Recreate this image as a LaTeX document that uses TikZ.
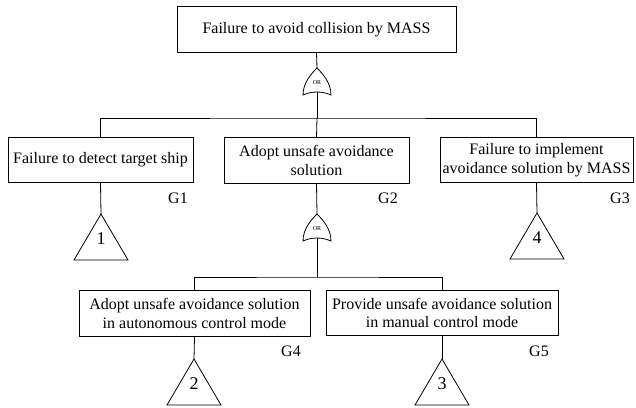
\documentclass[tikz,border=0pt]{standalone}
\usepackage{fontspec}
\setmainfont{Liberation Serif}
\begin{document}
\begin{tikzpicture}[x=1pt,y=-1pt,line width=0.8pt,
  event/.style={draw,rectangle,inner sep=0pt,minimum height=45.5pt,align=center,
    font=\fontsize{16}{18.5}\selectfont},
  gid/.style={font=\fontsize{16}{18}\selectfont,inner sep=0pt},
  tnum/.style={font=\fontsize{18}{20}\selectfont,inner sep=0pt},
  orgate/.pic={
    \draw[fill=white] (-14,0) .. controls (-14,-12) and (-6,-21) .. (0,-27)
      .. controls (6,-21) and (14,-12) .. (14,0)
      .. controls (5,-4) and (-5,-4) .. cycle;
    \node[font=\fontsize{6}{6}\selectfont,inner sep=0pt] at (0,-12) {OR};
    \coordinate (-in) at (0,-27);
    \coordinate (-out) at (0,-3);
  },
  transfer/.pic={
    \draw (0,0) -- (-27,46) -- (27,46) -- cycle;
    \coordinate (-apex) at (0,0);
  }]
\useasboundingbox (0,0) rectangle (636,407);

% events
\node[event,minimum width=279pt] (top) at (316.5,29.5) {Failure to avoid collision by MASS};
\node[event,minimum width=185pt] (g1) at (100.5,160) {Failure to detect target ship};
\node[event,minimum width=185pt] (g2) at (316.5,160.5) {Adopt unsafe avoidance\\solution};
\node[event,minimum width=193pt] (g3) at (536.5,160) {Failure to implement\\avoidance solution by MASS};
\node[event,minimum width=231pt] (g4) at (194.5,313.5) {Adopt unsafe avoidance solution\\in autonomous control mode};
\node[event,minimum width=232pt] (g5) at (442,313) {Provide unsafe avoidance solution\\in manual control mode};

% gate identifiers
\node[gid] (l1) at (178,198) {G1};
\node[gid] (l2) at (388,198) {G2};
\node[gid] (l3) at (620,198) {G3};
\node[gid] (l4) at (291,351) {G4};
\node[gid] (l5) at (539,351) {G5};

% OR gates
\pic (orA) at (317,95) {orgate};
\pic (orB) at (317,241) {orgate};

% bus bars
\coordinate (busA) at (317,118);
\coordinate (busB) at (317,277);

% transfer triangles
\pic (t1) at (101,214) {transfer};
\pic (t4) at (537,213) {transfer};
\pic (t2) at (194,359) {transfer};
\pic (t3) at (442,359) {transfer};
\node[tnum] (n1) at (101,239) {1};
\node[tnum] (n4) at (537,238) {4};
\node[tnum] (n2) at (194,384) {2};
\node[tnum] (n3) at (442,384) {3};

% connectors
\draw (top.south) -- (orA-in);
\draw (orA-out) -- (busA);
\draw (g1.north) |- (busA) -| (g3.north);
\draw (busA) -- (g2.north);
\draw (g1.south) -- (t1-apex);
\draw (g3.south) -- (t4-apex);
\draw (g2.south) -- (orB-in);
\draw (orB-out) -- (busB);
\draw (g4.north) |- (busB) -| (g5.north);
\draw (g4.south) -- (t2-apex);
\draw (g5.south) -- (t3-apex);
\end{tikzpicture}
\end{document}
